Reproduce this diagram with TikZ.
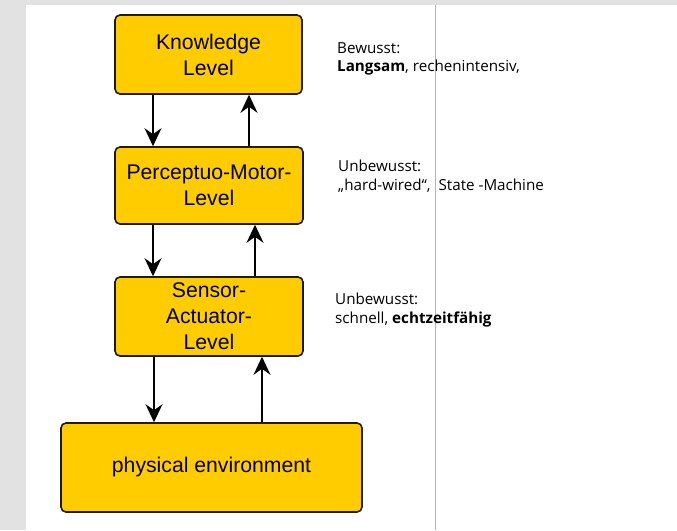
\documentclass[tikz,border=0pt]{standalone}
\usepackage{fontspec}
\setmainfont{Liberation Sans}
\newfontfamily\notefont{Open Sans}
\usetikzlibrary{arrows.meta}
\definecolor{pagegray}{HTML}{E1E2E1}
\definecolor{rulegray}{HTML}{B4B4B4}
\definecolor{levelfill}{HTML}{FFCC00}
\definecolor{levelline}{HTML}{1A1A1A}
\begin{document}
\begin{tikzpicture}[x=1pt,y=-1pt,
  level/.style={draw=levelline, line width=1.6pt, fill=levelfill, rounded corners=5pt,
    align=center, inner sep=0pt, font=\fontsize{21.2}{26}\selectfont},
  arr/.style={line width=1.8pt, draw=black, -{Stealth[length=18pt,width=17pt,inset=6pt]}},
  note/.style={anchor=north west, inner sep=0pt, align=left,
    font=\notefont\fontsize{15.2}{18.5}\selectfont}]
  % page background and margins
  \fill[pagegray] (0,0) rectangle (677,530);
  \fill[white] (26,5) rectangle (677,530);
  \draw[rulegray, line width=0.8pt] (435.3,5) -- (435.3,530);
  \useasboundingbox (0,0) rectangle (677,530);

  % levels
  \node[level, minimum width=187pt, minimum height=79pt] (K) at (208.5,54.5) {\raisebox{-2pt}{\parbox{180pt}{\centering Knowledge\\Level}}};
  \node[level, minimum width=188pt, minimum height=77pt] (P) at (209,185.5) {\raisebox{-1pt}{\parbox{180pt}{\centering Perceptuo-Motor-\\Level}}};
  \node[level, minimum width=188pt, minimum height=79pt] (S) at (209,316.5) {Sensor-\\Actuator-\\Level};
  \node[level, minimum width=301pt, minimum height=89pt] (E) at (211.5,467.5) {\raisebox{-2pt}{physical environment}};

  % down and up connections
  \draw[arr] ([xshift=-55.5pt]K.south) -- ([xshift=-55.5pt]K.south |- P.north);
  \draw[arr] ([xshift=40.5pt]K.south |- P.north) -- ([xshift=40.5pt]K.south);
  \draw[arr] ([xshift=-56pt]P.south) -- ([xshift=-56pt]P.south |- S.north);
  \draw[arr] ([xshift=46pt]P.south |- S.north) -- ([xshift=46pt]P.south);
  \draw[arr] ([xshift=-55pt]S.south) -- ([xshift=-55pt]S.south |- E.north);
  \draw[arr] ([xshift=50.5pt]E.north) -- ([xshift=50.5pt]E.north |- S.south);

  % annotations
  \node[note] (nK) at (337,42) {Bewusst:\\\textbf{Langsam}, rechenintensiv,};
  \node[note] (nP) at (338,160) {Unbewusst:\\„hard-wired“,\ \ State -Machine};
  \node[note] (nS) at (335,293) {Unbewusst:\\schnell, \textbf{echtzeitfähig}};
\end{tikzpicture}
\end{document}
